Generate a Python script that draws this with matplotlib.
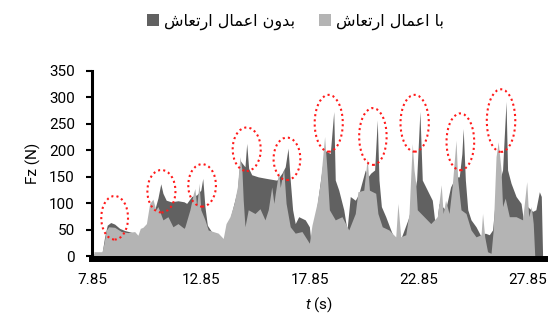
import matplotlib as mpl
mpl.use('Agg')
import matplotlib.pyplot as plt
from matplotlib.patches import Ellipse, Patch

plt.rcParams['font.family'] = ['Roboto', 'DejaVu Sans']
plt.rcParams['mathtext.fontset'] = 'custom'
plt.rcParams['mathtext.it'] = 'Roboto:italic'
plt.rcParams['mathtext.rm'] = 'Roboto'

# with vibration (light, front)
t_with = [7.94, 8.31, 8.40, 8.51, 8.62, 8.89, 9.20, 9.50, 9.81, 9.96, 10.07, 10.19, 10.35,
          10.50, 10.65, 10.78, 10.88, 11.11, 11.34, 11.57, 11.80, 12.08, 12.12, 12.35, 12.51,
          12.58, 12.66, 12.77, 12.85, 13.04, 13.19, 13.42, 13.65, 13.88, 14.01, 14.19, 14.38,
          14.53, 14.65, 14.74, 14.80, 14.88, 15.03, 15.34, 15.57, 15.80, 15.95, 16.11, 16.21,
          16.27, 16.43, 16.50, 16.66, 16.77, 16.96, 17.19, 17.50, 17.84, 17.96, 18.19, 18.34,
          18.54, 18.65, 18.76, 19.03, 19.34, 19.65, 19.95, 20.07, 20.34, 20.50, 20.60, 20.89,
          20.99, 21.19, 21.50, 21.81, 21.91, 22.04, 22.27, 22.42, 22.57, 22.65, 22.73, 22.80,
          23.11, 23.42, 23.72, 23.90, 23.99, 24.10, 24.26, 24.41, 24.58, 24.66, 24.81, 25.04,
          25.27, 25.50, 25.73, 25.80, 25.90, 26.03, 26.19, 26.29, 26.42, 26.52, 26.65, 26.72,
          26.84, 27.03, 27.34, 27.64, 27.83, 27.92, 28.04, 28.13, 28.20]
fz_with = [9, 9, 25, 50, 56, 55, 47, 45, 47, 40, 53, 55, 62,
           100, 108, 88, 94, 69, 75, 56, 62, 53, 56, 88, 119,
           128, 94, 138, 88, 69, 50, 47, 44, 34, 62, 75, 100,
           131, 188, 163, 106, 56, 88, 81, 90, 69, 88, 131, 100,
           118, 160, 130, 165, 100, 56, 44, 47, 25, 59, 100, 138,
           226, 163, 88, 69, 75, 50, 81, 122, 125, 185, 125, 119,
           81, 56, 50, 37, 100, 37, 41, 81, 213, 163, 138, 88,
           75, 62, 75, 135, 81, 106, 81, 135, 219, 144, 88, 81,
           50, 37, 41, 81, 37, 9, 6, 50, 188, 216, 163, 94,
           110, 75, 75, 69, 141, 75, 94, 62, 0]

# without vibration (dark, back)
t_without = [7.94, 8.31, 8.43, 8.55, 8.71, 8.89, 9.12, 9.35, 9.81, 9.96, 10.19, 10.35, 10.65,
             10.73, 10.88, 11.01, 11.11, 11.26, 11.49, 11.80, 12.08, 12.20, 12.43, 12.66, 12.85,
             12.94, 13.04, 13.15, 13.42, 13.88, 14.19, 14.53, 14.65, 14.88, 14.96, 15.05, 15.19,
             15.49, 15.88, 16.31, 16.35, 16.58, 16.73, 16.86, 16.96, 17.07, 17.19, 17.35, 17.65,
             17.84, 17.93, 18.19, 18.54, 18.80, 18.96, 19.03, 19.19, 19.42, 19.57, 19.72, 19.95,
             20.11, 20.41, 20.53, 20.66, 20.84, 20.96, 21.04, 21.15, 21.35, 21.58, 21.73, 22.04,
             22.42, 22.73, 22.77, 22.92, 23.03, 23.26, 23.49, 23.65, 23.80, 24.10, 24.33, 24.56,
             24.73, 24.85, 24.91, 25.01, 25.12, 25.27, 25.50, 25.73, 25.92, 26.11, 26.26, 26.42,
             26.72, 26.88, 26.95, 27.11, 27.34, 27.57, 27.72, 27.87, 28.10, 28.25, 28.41, 28.50,
             28.56]
fz_without = [5, 6, 37, 59, 64, 61, 53, 49, 44, 36, 50, 58, 90,
              88, 110, 137, 119, 106, 103, 105, 103, 100, 113, 116, 125,
              147, 94, 59, 42, 30, 70, 125, 181, 169, 213, 166, 154,
              150, 147, 144, 144, 157, 169, 204, 144, 88, 62, 75, 69,
              56, 20, 95, 200, 194, 273, 144, 125, 88, 50, 113, 106,
              118, 163, 150, 157, 163, 257, 144, 94, 75, 50, 35, 33,
              75, 135, 144, 273, 144, 125, 106, 50, 100, 88, 131, 150,
              150, 194, 241, 144, 88, 69, 56, 38, 44, 41, 50, 120,
              163, 292, 163, 138, 113, 100, 56, 94, 85, 88, 122, 113,
              0]

# red dotted circles around the peaks: centre t, centre Fz, width (s), height (N)
ell_t = [8.89, 11.04, 12.91, 14.96, 16.81, 18.73, 20.76, 22.68, 24.78, 26.65]
ell_fz = [73, 123, 134, 202, 184, 251, 226, 251, 216, 256]
ell_w = [1.23, 1.29, 1.27, 1.29, 1.23, 1.29, 1.26, 1.30, 1.27, 1.31]
ell_h = [82, 80, 80, 82, 80, 107, 107, 107, 107, 118]

xticks = [7.85, 12.85, 17.85, 22.85, 27.85]
yticks = [0, 50, 100, 150, 200, 250, 300, 350]

lbl_without = 'بدون اعمال ارتعاش'
lbl_with = 'با اعمال ارتعاش'

c_dark = '#616161'
c_light = '#b4b4b4'


def shape_fa(s):
    # minimal arabic shaping: presentation forms + visual order
    forms = {'ا': ('\uFE8D', '\uFE8E', None, None),
             'د': ('\uFEA9', '\uFEAA', None, None),
             'ر': ('\uFEAD', '\uFEAE', None, None),
             'و': ('\uFEED', '\uFEEE', None, None),
             'ب': ('\uFE8F', '\uFE90', '\uFE91', '\uFE92'),
             'ت': ('\uFE95', '\uFE96', '\uFE97', '\uFE98'),
             'ش': ('\uFEB5', '\uFEB6', '\uFEB7', '\uFEB8'),
             'ع': ('\uFEC9', '\uFECA', '\uFECB', '\uFECC'),
             'ل': ('\uFEDD', '\uFEDE', '\uFEDF', '\uFEE0'),
             'م': ('\uFEE1', '\uFEE2', '\uFEE3', '\uFEE4'),
             'ن': ('\uFEE5', '\uFEE6', '\uFEE7', '\uFEE8')}
    out = []
    for i, ch in enumerate(s):
        if ch not in forms:
            out.append(ch)
            continue
        prev = s[i-1] if i > 0 else ''
        nxt = s[i+1] if i < len(s)-1 else ''
        jp = prev in forms and forms[prev][2] is not None
        jn = forms[ch][2] is not None and nxt in forms
        f = forms[ch]
        if jp and jn:
            out.append(f[3])
        elif jp:
            out.append(f[1])
        elif jn:
            out.append(f[2])
        else:
            out.append(f[0])
    return ''.join(out[::-1])


fig = plt.figure(figsize=(5.52, 3.18), dpi=100)
ax = fig.add_axes([0.1667, 0.1934, 0.8206, 0.5843])

ax.fill_between(t_without, fz_without, 0, color=c_dark, lw=0)
ax.fill_between(t_with, fz_with, 0, color=c_light, lw=0)

for tc, fc, w, h in zip(ell_t, ell_fz, ell_w, ell_h):
    ax.add_patch(Ellipse((tc, fc), w, h, fill=False, edgecolor='#ff1a1a',
                         lw=1.5, linestyle=(0, (1, 1.5))))

ax.set_xlim(7.85, 28.67)
ax.set_ylim(0, 350)
ax.set_xticks(xticks)
ax.set_xticklabels(['%.2f' % x for x in xticks])
ax.set_yticks(yticks)

for s in ['top', 'right']:
    ax.spines[s].set_visible(False)
ax.spines['left'].set_linewidth(2.2)
ax.spines['bottom'].set_linewidth(4.3)
ax.spines['bottom'].set_position(('outward', 1.8))
ax.tick_params(axis='y', length=4.3, width=1.5, pad=8, labelsize=11, colors='black')
ax.tick_params(axis='x', length=0, pad=10, labelsize=11)

ax.set_ylabel('Fz (N)', fontsize=11, labelpad=6)
ax.set_xlabel('$t$ (s)', fontsize=11, labelpad=6)

handles = [Patch(facecolor=c_dark, edgecolor='none'),
           Patch(facecolor=c_light, edgecolor='none')]
fig.legend(handles, [shape_fa(lbl_without), shape_fa(lbl_with)],
           loc='center', bbox_to_anchor=(0.535, 0.932), ncol=2, frameon=False,
           prop={'family': ['DejaVu Sans'], 'size': 11.5},
           handlelength=0.75, handleheight=0.75, handletextpad=0.3, columnspacing=1.5)

fig.savefig('out.png', dpi=100)
